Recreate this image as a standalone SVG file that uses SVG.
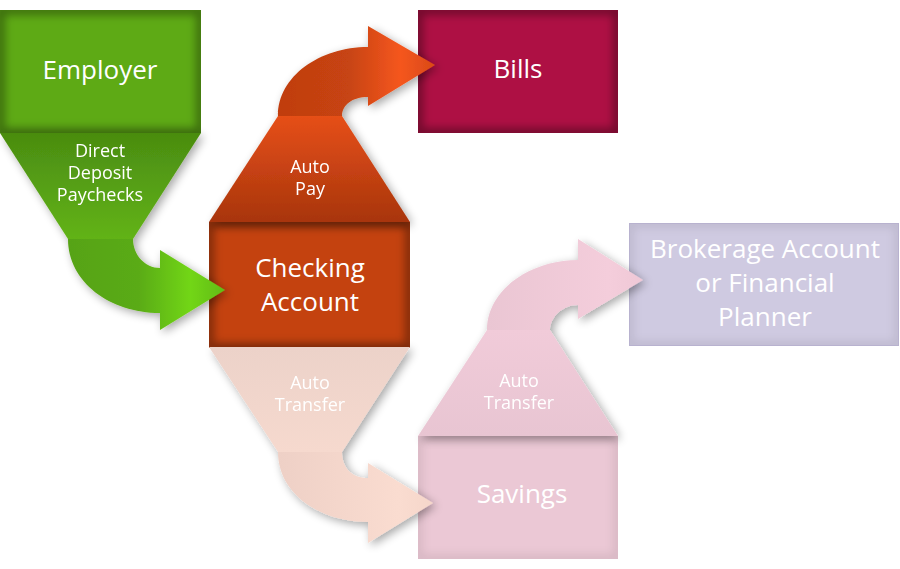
<svg xmlns="http://www.w3.org/2000/svg" width="900" height="569" viewBox="0 0 900 569">
<defs>
<style>
text{font-family:"Open Sans","Noto Sans",sans-serif;fill:#fff;text-anchor:middle}
.big{font-size:26px}
.small{font-size:18px}
.edge{fill:none;stroke:#000;stroke-opacity:0.35;stroke-width:10}
.edgeLight{fill:none;stroke:#000;stroke-opacity:0.08;stroke-width:10}
</style>
<filter id="blur" x="-20%" y="-20%" width="140%" height="140%"><feGaussianBlur stdDeviation="4"/></filter>
<clipPath id="cEmp"><rect x="0" y="10" width="201" height="123"/></clipPath>
<clipPath id="cChk"><rect x="209" y="222" width="201" height="126"/></clipPath>
<clipPath id="cBil"><rect x="418" y="10" width="200" height="123"/></clipPath>
<clipPath id="cSav"><rect x="418" y="436" width="200" height="123"/></clipPath>
<clipPath id="cBro"><rect x="629" y="223" width="270" height="123"/></clipPath>
<filter id="shadow" x="-20%" y="-20%" width="140%" height="140%">
<feGaussianBlur in="SourceAlpha" stdDeviation="5"/>
<feOffset dx="3" dy="3"/>
<feComponentTransfer><feFuncA type="linear" slope="0.35"/></feComponentTransfer>
<feMerge><feMergeNode/><feMergeNode in="SourceGraphic"/></feMerge>
</filter>
<linearGradient id="gFun" x1="0" y1="133" x2="0" y2="239" gradientUnits="userSpaceOnUse"><stop offset="0" stop-color="#4a8c10"/><stop offset="1" stop-color="#62b318"/></linearGradient>
<linearGradient id="gArr" x1="68" y1="0" x2="225" y2="0" gradientUnits="userSpaceOnUse"><stop offset="0" stop-color="#57a313"/><stop offset="0.45" stop-color="#5aab14"/><stop offset="0.78" stop-color="#72d616"/><stop offset="1" stop-color="#62bb16"/></linearGradient>
<linearGradient id="oFun" x1="0" y1="116" x2="0" y2="222" gradientUnits="userSpaceOnUse"><stop offset="0" stop-color="#e64f19"/><stop offset="1" stop-color="#a8350c"/></linearGradient>
<linearGradient id="oArr" x1="278" y1="0" x2="435" y2="0" gradientUnits="userSpaceOnUse"><stop offset="0" stop-color="#c03d10"/><stop offset="0.45" stop-color="#c74412"/><stop offset="0.78" stop-color="#f5561f"/><stop offset="1" stop-color="#d94a17"/></linearGradient>
<linearGradient id="pFun" x1="0" y1="347" x2="0" y2="452" gradientUnits="userSpaceOnUse"><stop offset="0" stop-color="#ecd2c9"/><stop offset="1" stop-color="#f6d9ce"/></linearGradient>
<linearGradient id="pArr" x1="278" y1="0" x2="433" y2="0" gradientUnits="userSpaceOnUse"><stop offset="0" stop-color="#eed0c6"/><stop offset="0.78" stop-color="#fadcd0"/><stop offset="1" stop-color="#f5d6ca"/></linearGradient>
<linearGradient id="kFun" x1="0" y1="330" x2="0" y2="436" gradientUnits="userSpaceOnUse"><stop offset="0" stop-color="#f1cbd9"/><stop offset="1" stop-color="#e8c5d2"/></linearGradient>
<linearGradient id="kArr" x1="487" y1="0" x2="643" y2="0" gradientUnits="userSpaceOnUse"><stop offset="0" stop-color="#eac6d3"/><stop offset="0.78" stop-color="#f4cddb"/><stop offset="1" stop-color="#efc8d6"/></linearGradient>
</defs>

<g id="employer">
<rect x="0" y="10" width="201" height="123" fill="#5eaa15"/>
<g clip-path="url(#cEmp)"><rect class="edge" x="0" y="10" width="201" height="123" filter="url(#blur)"/></g>
<text class="big" x="100" y="79">Employer</text>
</g>
<g id="checking">
<rect x="209" y="222" width="201" height="126" fill="#c4420f"/>
<g clip-path="url(#cChk)"><rect class="edge" x="209" y="222" width="201" height="126" filter="url(#blur)"/></g>
<text class="big" x="310" y="277">Checking</text>
<text class="big" x="310" y="311">Account</text>
</g>
<g id="bills">
<rect x="418" y="10" width="200" height="123" fill="#ae1044"/>
<g clip-path="url(#cBil)"><rect class="edge" x="418" y="10" width="200" height="123" filter="url(#blur)"/></g>
<text class="big" x="518" y="78">Bills</text>
</g>
<g id="savings">
<rect x="418" y="436" width="200" height="123" fill="#ebc8d5"/>
<g clip-path="url(#cSav)"><rect class="edgeLight" x="418" y="436" width="200" height="123" filter="url(#blur)"/></g>
<text class="big" x="522" y="503">Savings</text>
</g>
<g id="brokerage">
<rect x="629" y="223" width="270" height="123" fill="#cfcae1"/>
<g clip-path="url(#cBro)"><rect class="edgeLight" x="629" y="223" width="270" height="123" filter="url(#blur)"/></g>
<rect x="629.5" y="223.5" width="269" height="122" fill="none" stroke="#b8b2cf" stroke-width="1"/>
<text class="big" x="765" y="258">Brokerage Account</text>
<text class="big" x="765" y="292">or Financial</text>
<text class="big" x="765" y="326">Planner</text>
</g>

<g id="connectors">
<g id="direct-deposit" filter="url(#shadow)">
<path d="M68,239 C68,282 110,313 160,313 L160,330 L225,290 L160,250 L160,268 C145,268 133,255 133,239 Z" fill="url(#gArr)"/>
<path d="M0,133 L201,133 L133,239 L68,239 Z" fill="url(#gFun)"/>
<text class="small" x="100" y="157">Direct</text>
<text class="small" x="100" y="179">Deposit</text>
<text class="small" x="100" y="201">Paychecks</text>
</g>
<g id="auto-pay" filter="url(#shadow)">
<path d="M278,116 C278,76 320,47 368,47 L368,26 L435,65 L368,106 L368,97 C352,97 342,105 342,116 Z" fill="url(#oArr)"/>
<path d="M209,222 L410,222 L342,116 L278,116 Z" fill="url(#oFun)"/>
<text class="small" x="310" y="173">Auto</text>
<text class="small" x="310" y="195">Pay</text>
</g>
<g id="auto-transfer-savings" filter="url(#shadow)">
<path d="M278,452 C278,494 320,522 368,522 L368,543 L433,503 L368,463 L368,478 C352,478 342,468 342,452 Z" fill="url(#pArr)"/>
<path d="M209,347 L410,347 L342,452 L278,452 Z" fill="url(#pFun)"/>
<text class="small" x="310" y="389">Auto</text>
<text class="small" x="310" y="411">Transfer</text>
</g>
<g id="auto-transfer-brokerage" filter="url(#shadow)">
<path d="M487,330 C487,290 530,260 578,260 L578,239 L643,280 L578,319 L578,305 C562,305 550,318 550,330 Z" fill="url(#kArr)"/>
<path d="M418,436 L618,436 L550,330 L487,330 Z" fill="url(#kFun)"/>
<text class="small" x="519" y="387">Auto</text>
<text class="small" x="519" y="409">Transfer</text>
</g>
</g>
</svg>
